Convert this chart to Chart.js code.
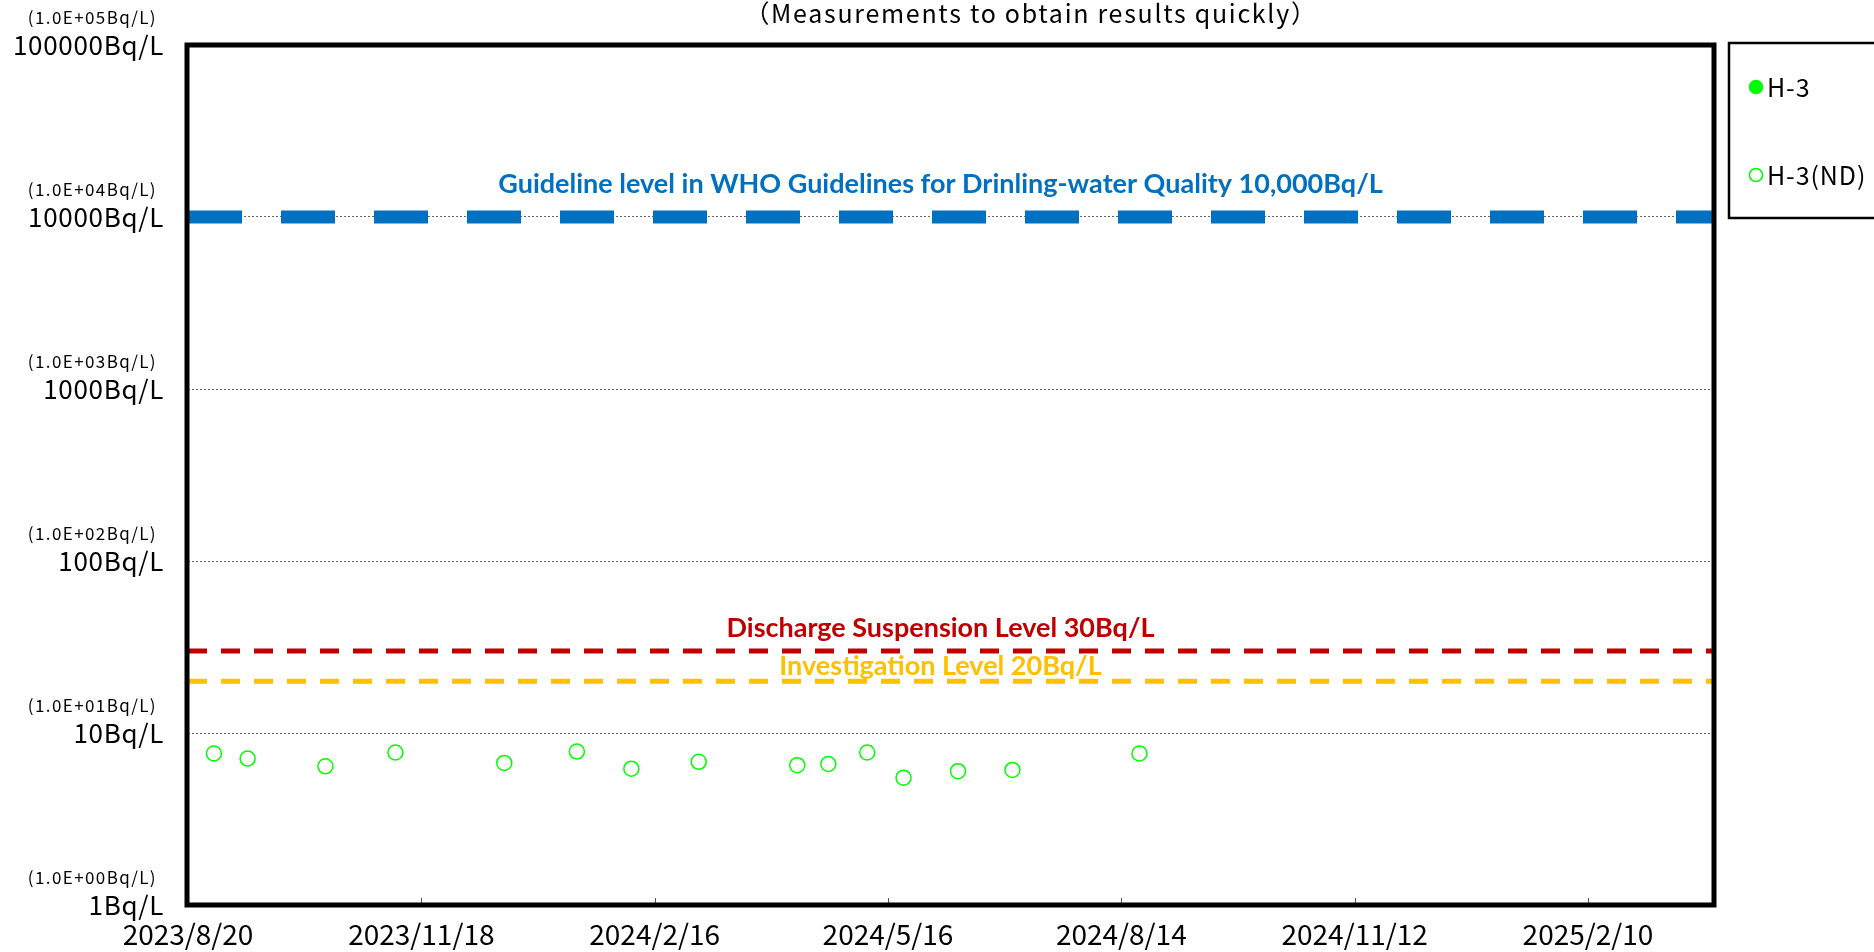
<!DOCTYPE html>
<html>
<head>
<meta charset="utf-8">
<script src="https://cdn.jsdelivr.net/npm/chart.js@4/dist/chart.umd.min.js"></script>
<style>
  html, body { margin: 0; padding: 0; background: #fff; }
  #wrap { width: 1874px; height: 952px; }
</style>
</head>
<body>
<div id="wrap"><canvas id="chart" width="1874" height="952"></canvas></div>
<script>
// ── Data ─────────────────────────────────────────────────────────────────────
const titleText = '（Measurements to obtain results quickly）'

const xStart = '2023/8/20'
const xEnd   = '2025/3/31'
const xTickLabels = ['2023/8/20', '2023/11/18', '2024/2/16', '2024/5/16', '2024/8/14', '2024/11/12', '2025/2/10']

const yTickValues    = [1, 10, 100, 1000, 10000, 100000]
const yTickLabels    = ['1Bq/L', '10Bq/L', '100Bq/L', '1000Bq/L', '10000Bq/L', '100000Bq/L']
const yTickSubLabels = ['(1.0E+00Bq/L)', '(1.0E+01Bq/L)', '(1.0E+02Bq/L)', '(1.0E+03Bq/L)', '(1.0E+04Bq/L)', '(1.0E+05Bq/L)']

// detected H-3 (none in this period)
const h3Dates  = []
const h3Values = []

// not detected: plotted at the detection limit
const h3NdDates  = ['2023/8/30', '2023/9/12', '2023/10/12', '2023/11/8', '2023/12/20', '2024/1/17', '2024/2/7', '2024/3/4',
                    '2024/4/11', '2024/4/23', '2024/5/8', '2024/5/22', '2024/6/12', '2024/7/3', '2024/8/21']
const h3NdValues = [7.6, 7.1, 6.4, 7.7, 6.7, 7.8, 6.2, 6.8, 6.5, 6.6, 7.7, 5.5, 6.0, 6.1, 7.6]

const levelValues = [10000, 30, 20]
const levelLabels = [
    'Guideline level in WHO Guidelines for Drinling-water Quality 10,000Bq/L',
    'Discharge Suspension Level 30Bq/L',
    'Investigation Level 20Bq/L',
]

// ── Helpers ──────────────────────────────────────────────────────────────────
const FONT = "'Noto Sans CJK JP', 'DejaVu Sans', sans-serif"
const NOTE_FONT = "Lato, 'Open Sans', sans-serif"

// days since the axis start
function toDay(s) {
    const [y, m, d] = s.split('/').map(Number)
    const [y0, m0, d0] = xStart.split('/').map(Number)
    return (Date.UTC(y, m - 1, d) - Date.UTC(y0, m0 - 1, d0)) / 864e5
}

const pts = (dates, values) => dates.map((d, i) => ({ x: toDay(d), y: values[i] }))
const levelLine = (v) => [{ x: toDay(xStart), y: v }, { x: toDay(xEnd), y: v }]

// ── Plugins ──────────────────────────────────────────────────────────────────
const notes = {
    id: 'notes',
    afterDatasetsDraw(chart) {
        const { ctx, chartArea, scales: { y } } = chart
        const cx = (chartArea.left + chartArea.right) / 2 - 11
        const styles = [
            { color: '#0070C0', lift: 24, width: 886 },
            { color: '#C00000', lift: 14, width: 428 },
            { color: '#FFC000', lift: 6, width: 323 },
        ]
        ctx.save()
        ctx.textAlign = 'center'
        ctx.textBaseline = 'alphabetic'
        ctx.font = `bold 27px ${NOTE_FONT}`
        levelValues.forEach((v, i) => {
            ctx.fillStyle = styles[i].color
            ctx.fillText(levelLabels[i], cx, y.getPixelForValue(v) - styles[i].lift, styles[i].width)
        })
        ctx.restore()
    },
}

const frame = {
    id: 'frame',
    afterDraw(chart) {
        const { ctx, chartArea: a, scales: { x, y } } = chart
        ctx.save()

        // inward tick marks on the date axis
        ctx.strokeStyle = '#555'
        ctx.lineWidth = 1
        x.ticks.forEach(t => {
            const px = Math.round(x.getPixelForValue(t.value)) + 0.5
            ctx.beginPath()
            ctx.moveTo(px, a.bottom)
            ctx.lineTo(px, a.bottom - 7)
            ctx.stroke()
        })

        // plot frame
        ctx.strokeStyle = '#000'
        ctx.lineWidth = 5
        ctx.strokeRect(a.left - 1, a.top, a.right - a.left, a.bottom - a.top)

        // two-line log axis labels
        ctx.fillStyle = '#000'
        ctx.textAlign = 'right'
        ctx.textBaseline = 'alphabetic'
        yTickValues.forEach((v, i) => {
            const py = y.getPixelForValue(v)
            ctx.font = `26px ${FONT}`
            ctx.letterSpacing = '0.7px'
            ctx.fillText(yTickLabels[i], a.left - 24, py + 10)
            ctx.font = `17px ${FONT}`
            ctx.letterSpacing = '1.4px'
            ctx.fillText(yTickSubLabels[i], a.left - 31, py - 21)
        })

        // title
        ctx.textAlign = 'center'
        ctx.font = `25px ${FONT}`
        ctx.letterSpacing = '1.7px'
        ctx.fillText(titleText, 1031, 23)

        // legend box
        ctx.letterSpacing = '0.9px'
        ctx.lineWidth = 2.5
        ctx.strokeRect(1729, 43, 200, 175)
        ctx.textAlign = 'left'
        ctx.font = `25px ${FONT}`
        chart.data.datasets.filter(ds => ds.pointRadius > 0).forEach((ds, i) => {
            const my = 87 + i * 88
            ctx.beginPath()
            ctx.arc(1756, my, 6.5, 0, Math.PI * 2)
            ctx.fillStyle = ds.pointBackgroundColor
            ctx.fill()
            ctx.lineWidth = ds.pointBorderWidth
            ctx.strokeStyle = ds.borderColor
            ctx.stroke()
            ctx.fillStyle = '#000'
            ctx.fillText(ds.label, 1767, my + 10)
        })

        ctx.restore()
    },
}

// ── Chart ────────────────────────────────────────────────────────────────────
new Chart(document.getElementById('chart'), {
    type: 'scatter',
    data: {
        datasets: [
            {
                label: 'H-3',
                data: pts(h3Dates, h3Values),
                pointRadius: 7.5,
                pointBorderWidth: 1.5,
                borderColor: '#00FF00',
                pointBackgroundColor: '#00FF00',
            },
            {
                label: 'H-3(ND)',
                data: pts(h3NdDates, h3NdValues),
                pointRadius: 7.5,
                pointBorderWidth: 1.5,
                borderColor: '#00FF00',
                pointBackgroundColor: 'rgba(0,0,0,0)',
            },
            {
                label: levelLabels[0],
                data: levelLine(levelValues[0]),
                showLine: true,
                pointRadius: 0,
                borderColor: '#0070C0',
                borderWidth: 13,
                borderDash: [54, 39],
                borderCapStyle: 'butt',
            },
            {
                label: levelLabels[1],
                data: levelLine(levelValues[1]),
                showLine: true,
                pointRadius: 0,
                borderColor: '#C00000',
                borderWidth: 5,
                borderDash: [19, 14],
                borderCapStyle: 'butt',
            },
            {
                label: levelLabels[2],
                data: levelLine(levelValues[2]),
                showLine: true,
                pointRadius: 0,
                borderColor: '#FFC000',
                borderWidth: 5,
                borderDash: [19, 14],
                borderCapStyle: 'butt',
            },
        ],
    },
    options: {
        responsive: false,
        devicePixelRatio: 1,
        animation: false,
        layout: { padding: { left: 188, top: 45, right: 159, bottom: 0 } },
        plugins: {
            legend: { display: false },
            tooltip: { enabled: false },
        },
        scales: {
            x: {
                type: 'linear',
                min: toDay(xStart),
                max: toDay(xEnd),
                afterBuildTicks: (s) => { s.ticks = xTickLabels.map(l => ({ value: toDay(l) })) },
                afterFit: (s) => { s.height = 47 },
                grid: { display: false, drawTicks: false },
                border: { display: false },
                ticks: {
                    autoSkip: false,
                    maxRotation: 0,
                    padding: 13,
                    color: '#000',
                    font: { family: FONT, size: 28 },
                    callback: (v, i) => xTickLabels[i],
                },
            },
            y: {
                type: 'logarithmic',
                min: 1,
                max: 100000,
                afterBuildTicks: (s) => { s.ticks = yTickValues.map(v => ({ value: v })) },
                grid: { color: '#666', lineWidth: 1, drawTicks: false },
                border: { display: false, dash: [2, 2] },
                ticks: { display: false },
            },
        },
    },
    plugins: [notes, frame],
})
</script>
</body>
</html>
